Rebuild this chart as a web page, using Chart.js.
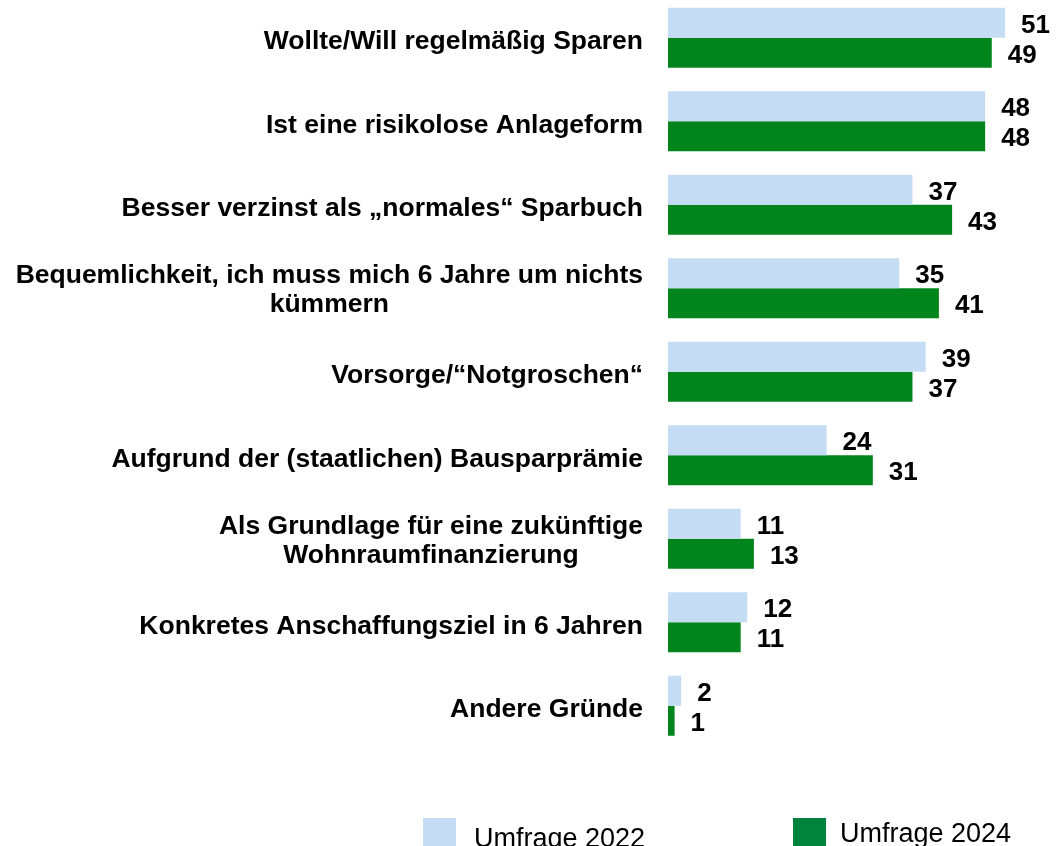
<!DOCTYPE html>
<html>
<head>
<meta charset="utf-8">
<script src="https://cdn.jsdelivr.net/npm/chart.js@4/dist/chart.umd.min.js"></script>
<style>
  html, body { margin: 0; padding: 0; background: #fff; overflow: hidden; }
  #wrap { position: absolute; left: 0; top: -4px; width: 1062px; height: 854px; }
</style>
</head>
<body>
<div id="wrap"><canvas id="graph" width="1062" height="854"></canvas></div>
<script>
var categories = [
  ["Wollte/Will regelmäßig Sparen"],
  ["Ist eine risikolose Anlageform"],
  ["Besser verzinst als „normales“ Sparbuch"],
  ["Bequemlichkeit, ich muss mich 6 Jahre um nichts", "kümmern"],
  ["Vorsorge/“Notgroschen“"],
  ["Aufgrund der (staatlichen) Bausparprämie"],
  ["Als Grundlage für eine zukünftige", "Wohnraumfinanzierung"],
  ["Konkretes Anschaffungsziel in 6 Jahren"],
  ["Andere Gründe"]
];
var umfrage2022 = [51, 48, 37, 35, 39, 24, 11, 12, 2];
var umfrage2024 = [49, 48, 43, 41, 37, 31, 13, 11, 1];

var lightBlue = "#C5DCF5";
var green = "#00851C";
var legendGreen = "#00843D";

// category labels: block right-aligned, lines centred among themselves
var catLabels = {
  id: 'catLabels',
  afterDraw: function(chart) {
    var ctx = chart.ctx;
    var y = chart.scales.y;
    ctx.save();
    ctx.font = "bold 26.5px 'Liberation Sans', Arial, sans-serif";
    ctx.fillStyle = "#000";
    ctx.textBaseline = "middle";
    ctx.textAlign = "center";
    categories.forEach(function(lines, i) {
      var cy = y.getPixelForValue(i);
      var w = 0;
      lines.forEach(function(l) { w = Math.max(w, ctx.measureText(l).width); });
      var cx = 643 - w / 2;
      var lh = 29;
      var start = lines.length > 1 ? cy + 2 - lh / 2 : cy + 4;
      lines.forEach(function(l, k) {
        ctx.fillText(l, cx, start + k * lh);
      });
    });
    ctx.restore();
  }
};

var valueLabels = {
  id: 'valueLabels',
  afterDatasetsDraw: function(chart) {
    var ctx = chart.ctx;
    ctx.save();
    ctx.font = "bold 26px 'Liberation Sans', Arial, sans-serif";
    ctx.fillStyle = "#000";
    ctx.textBaseline = "middle";
    ctx.textAlign = "left";
    chart.data.datasets.forEach(function(ds, di) {
      chart.getDatasetMeta(di).data.forEach(function(bar, i) {
        ctx.fillText(ds.data[i], bar.x + 16, bar.y + 3);
      });
    });
    ctx.restore();
  }
};

var bottomLegend = {
  id: 'bottomLegend',
  afterDraw: function(chart) {
    var ctx = chart.ctx;
    ctx.save();
    ctx.font = "27px 'Liberation Sans', Arial, sans-serif";
    ctx.textBaseline = "alphabetic";
    ctx.textAlign = "left";
    ctx.fillStyle = lightBlue;
    ctx.fillRect(423, 822, 33, 33);
    ctx.fillStyle = legendGreen;
    ctx.fillRect(793, 822, 33, 33);
    ctx.fillStyle = "#000";
    ctx.fillText(chart.data.datasets[0].label, 474, 851);
    ctx.fillText(chart.data.datasets[1].label, 840, 846);
    ctx.restore();
  }
};

var ctx = document.getElementById("graph").getContext('2d');

var chart = new Chart(ctx, {
  type: 'bar',
  data: {
    labels: categories,
    datasets: [
      {
        label: 'Umfrage 2022',
        data: umfrage2022,
        backgroundColor: lightBlue,
        barPercentage: 1,
        categoryPercentage: 0.7186
      },
      {
        label: 'Umfrage 2024',
        data: umfrage2024,
        backgroundColor: green,
        barPercentage: 1,
        categoryPercentage: 0.7186
      }
    ]
  },
  options: {
    indexAxis: 'y',
    responsive: false,
    animation: false,
    layout: { padding: { left: 668, right: 30.6, top: 0, bottom: 102.5 } },
    plugins: {
      legend: { display: false },
      tooltip: { enabled: false }
    },
    scales: {
      x: { display: false, min: 0, max: 55 },
      y: { display: false }
    }
  },
  plugins: [catLabels, valueLabels, bottomLegend]
});
</script>
</body>
</html>
